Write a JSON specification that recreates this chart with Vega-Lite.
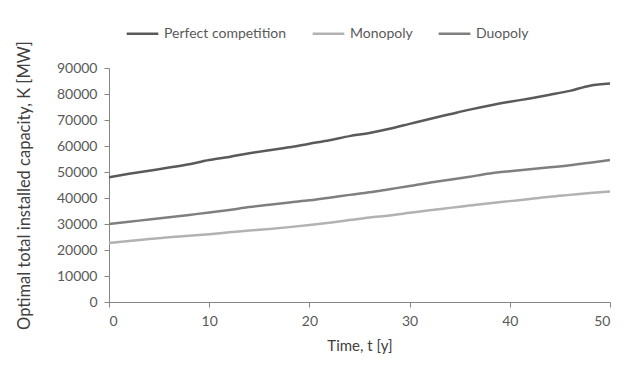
{
  "$schema": "https://vega.github.io/schema/vega-lite/v6.json",
  "autosize": {"type": "none"},
  "width": 501,
  "height": 234,
  "padding": {"left": 109, "top": 68, "right": 24, "bottom": 74},
  "background": "white",
  "config": {
    "view": {"stroke": null},
    "font": "Lato"
  },
  "data": {
    "values": [
      {"t": 0, "s": "Perfect competition", "K": 48000},
      {"t": 2, "s": "Perfect competition", "K": 49300},
      {"t": 4, "s": "Perfect competition", "K": 50500},
      {"t": 6, "s": "Perfect competition", "K": 51700},
      {"t": 8, "s": "Perfect competition", "K": 53000},
      {"t": 10, "s": "Perfect competition", "K": 54600},
      {"t": 12, "s": "Perfect competition", "K": 55800},
      {"t": 14, "s": "Perfect competition", "K": 57200},
      {"t": 16, "s": "Perfect competition", "K": 58400},
      {"t": 18, "s": "Perfect competition", "K": 59500},
      {"t": 20, "s": "Perfect competition", "K": 60900},
      {"t": 22, "s": "Perfect competition", "K": 62200},
      {"t": 24, "s": "Perfect competition", "K": 63800},
      {"t": 26, "s": "Perfect competition", "K": 65000},
      {"t": 28, "s": "Perfect competition", "K": 66600},
      {"t": 30, "s": "Perfect competition", "K": 68500},
      {"t": 32, "s": "Perfect competition", "K": 70400},
      {"t": 34, "s": "Perfect competition", "K": 72200},
      {"t": 36, "s": "Perfect competition", "K": 74000},
      {"t": 38, "s": "Perfect competition", "K": 75600},
      {"t": 40, "s": "Perfect competition", "K": 77000},
      {"t": 42, "s": "Perfect competition", "K": 78300},
      {"t": 44, "s": "Perfect competition", "K": 79700},
      {"t": 46, "s": "Perfect competition", "K": 81200},
      {"t": 48, "s": "Perfect competition", "K": 83200},
      {"t": 50, "s": "Perfect competition", "K": 84000},
      {"t": 0, "s": "Monopoly", "K": 22700},
      {"t": 2, "s": "Monopoly", "K": 23500},
      {"t": 4, "s": "Monopoly", "K": 24200},
      {"t": 6, "s": "Monopoly", "K": 24900},
      {"t": 8, "s": "Monopoly", "K": 25500},
      {"t": 10, "s": "Monopoly", "K": 26100},
      {"t": 12, "s": "Monopoly", "K": 26800},
      {"t": 14, "s": "Monopoly", "K": 27500},
      {"t": 16, "s": "Monopoly", "K": 28100},
      {"t": 18, "s": "Monopoly", "K": 28800},
      {"t": 20, "s": "Monopoly", "K": 29600},
      {"t": 22, "s": "Monopoly", "K": 30500},
      {"t": 24, "s": "Monopoly", "K": 31500},
      {"t": 26, "s": "Monopoly", "K": 32500},
      {"t": 28, "s": "Monopoly", "K": 33300},
      {"t": 30, "s": "Monopoly", "K": 34300},
      {"t": 32, "s": "Monopoly", "K": 35300},
      {"t": 34, "s": "Monopoly", "K": 36200},
      {"t": 36, "s": "Monopoly", "K": 37100},
      {"t": 38, "s": "Monopoly", "K": 38000},
      {"t": 40, "s": "Monopoly", "K": 38800},
      {"t": 42, "s": "Monopoly", "K": 39600},
      {"t": 44, "s": "Monopoly", "K": 40500},
      {"t": 46, "s": "Monopoly", "K": 41200},
      {"t": 48, "s": "Monopoly", "K": 41900},
      {"t": 50, "s": "Monopoly", "K": 42500},
      {"t": 0, "s": "Duopoly", "K": 30000},
      {"t": 2, "s": "Duopoly", "K": 30900},
      {"t": 4, "s": "Duopoly", "K": 31700},
      {"t": 6, "s": "Duopoly", "K": 32600},
      {"t": 8, "s": "Duopoly", "K": 33500},
      {"t": 10, "s": "Duopoly", "K": 34400},
      {"t": 12, "s": "Duopoly", "K": 35400},
      {"t": 14, "s": "Duopoly", "K": 36500},
      {"t": 16, "s": "Duopoly", "K": 37400},
      {"t": 18, "s": "Duopoly", "K": 38300},
      {"t": 20, "s": "Duopoly", "K": 39100},
      {"t": 22, "s": "Duopoly", "K": 40100},
      {"t": 24, "s": "Duopoly", "K": 41200},
      {"t": 26, "s": "Duopoly", "K": 42200},
      {"t": 28, "s": "Duopoly", "K": 43400},
      {"t": 30, "s": "Duopoly", "K": 44600},
      {"t": 32, "s": "Duopoly", "K": 45900},
      {"t": 34, "s": "Duopoly", "K": 47000},
      {"t": 36, "s": "Duopoly", "K": 48200},
      {"t": 38, "s": "Duopoly", "K": 49400},
      {"t": 40, "s": "Duopoly", "K": 50300},
      {"t": 42, "s": "Duopoly", "K": 51100},
      {"t": 44, "s": "Duopoly", "K": 51800},
      {"t": 46, "s": "Duopoly", "K": 52600},
      {"t": 48, "s": "Duopoly", "K": 53600},
      {"t": 50, "s": "Duopoly", "K": 54600}
    ]
  },
  "mark": {"type": "line", "strokeWidth": 2.5, "interpolate": "monotone"},
  "encoding": {
    "x": {
      "field": "t", "type": "quantitative",
      "scale": {"domain": [0, 50], "nice": false},
      "axis": {
        "title": "Time, t [y]",
        "values": [0, 10, 20, 30, 40, 50],
        "grid": false,
        "domainColor": "#868686", "tickColor": "#868686", "tickSize": 5,
        "labelColor": "#595959", "labelFontSize": 14, "labelPadding": 7,
        "titleColor": "#404040", "titleFontSize": 15, "titleFontWeight": "normal", "titlePadding": 10
      }
    },
    "y": {
      "field": "K", "type": "quantitative",
      "scale": {"domain": [0, 90000], "nice": false},
      "axis": {
        "title": "Optimal total installed capacity, K [MW]",
        "values": [0, 10000, 20000, 30000, 40000, 50000, 60000, 70000, 80000, 90000],
        "format": "d",
        "grid": false,
        "domainColor": "#868686", "tickColor": "#868686", "tickSize": 5,
        "labelColor": "#595959", "labelFontSize": 14, "labelPadding": 7,
        "titleColor": "#404040", "titleFontSize": 16.5, "titleFontWeight": "normal", "titlePadding": 24
      }
    },
    "color": {
      "field": "s", "type": "nominal",
      "sort": ["Perfect competition", "Monopoly", "Duopoly"],
      "scale": {
        "domain": ["Perfect competition", "Monopoly", "Duopoly"],
        "range": ["#5a5a5a", "#b2b2b2", "#7f7f7f"]
      },
      "legend": {
        "title": null,
        "orient": "none",
        "direction": "horizontal",
        "legendX": 16,
        "legendY": -52,
        "symbolType": "stroke",
        "symbolSize": 1000,
        "symbolStrokeWidth": 2.5,
        "labelColor": "#595959",
        "labelFontSize": 14,
        "labelOffset": 4,
        "columnPadding": 20
      }
    }
  }
}
